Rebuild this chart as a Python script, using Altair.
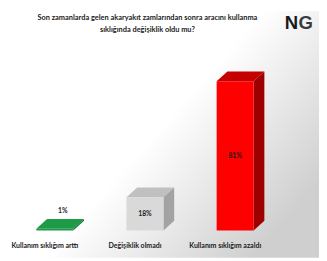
import altair as alt
import pandas as pd

categories = ["Kullanım sıklığım arttı", "Değişiklik olmadı", "Kullanım sıklığım azaldı"]
values = [1, 18, 81]
value_labels = ["1%", "18%", "81%"]
front_colors = ["#1f9a48", "#d9d9d9", "#ff0000"]
top_colors = ["#1f9a48", "#c0c0c0", "#c40000"]
side_colors = ["#13743a", "#a3a3a3", "#9e0000"]
title_lines = ["Son zamanlarda gelen akaryakıt zamlarından sonra aracını kullanma",
               "sıklığında değişiklik oldu mu?"]

W, H = 319, 253
X_DOM = [-0.519, 2.930]
Y_DOM = [-14.8, 119.0]
half = 0.205   # half bar width (index units)
dx = 0.119     # 3D depth x
dy = 5.3       # 3D depth y

front, faces, vlab, clab = [], [], [], []
for i, (c, v) in enumerate(zip(categories, values)):
    x0, x1 = i - half, i + half
    front.append({"x": x0, "x2": x1, "y": 0, "y2": v, "color": front_colors[i]})
    k = f"top{i}"
    for px, py, py2 in [(x0, v, v), (x0 + dx, v + dy, v), (x1, v + dy, v), (x1 + dx, v + dy, v + dy)]:
        faces.append({"key": k, "x": px, "y": py, "y2": py2, "color": top_colors[i]})
    k = f"side{i}"
    for px, py, py2 in [(x1, v, 0), (x1 + dx, v + dy, dy)]:
        faces.append({"key": k, "x": px, "y": py, "y2": py2, "color": side_colors[i]})
    if v > 10:
        vlab.append({"x": i, "y": v / 2, "t": value_labels[i]})
    else:
        vlab.append({"x": i + dx * 0.75, "y": v + dy + 4.3, "t": value_labels[i]})
    clab.append({"x": i - 0.11, "y": -8.5, "t": c})

xs = alt.Scale(domain=X_DOM, nice=False, zero=False)
ys = alt.Scale(domain=Y_DOM, nice=False, zero=False)
X = lambda f="x": alt.X(f"{f}:Q", scale=xs, axis=None)
Y = lambda f="y": alt.Y(f"{f}:Q", scale=ys, axis=None)

bg_df = pd.DataFrame({"x": [X_DOM[0]], "x2": [X_DOM[1]], "y": [Y_DOM[0]], "y2": [Y_DOM[1]]})
bg_layer = alt.Chart(bg_df).mark_rect(
    color=alt.LinearGradient(
        gradient="linear", x1=0, y1=0, x2=1, y2=0.7,
        stops=[alt.GradientStop(offset=0, color="#ffffff"),
               alt.GradientStop(offset=0.55, color="#ffffff"),
               alt.GradientStop(offset=1, color="#cfcfcf")],
    )
).encode(x=X(), x2="x2:Q", y=Y(), y2="y2:Q")

face_layer = alt.Chart(pd.DataFrame(faces)).mark_area(interpolate="linear").encode(
    x=X(), y=Y(), y2="y2:Q", detail="key:N", color=alt.Color("color:N", scale=None)
)
front_layer = alt.Chart(pd.DataFrame(front)).mark_rect().encode(
    x=X(), x2="x2:Q", y=Y(), y2="y2:Q", color=alt.Color("color:N", scale=None)
)
vlab_layer = alt.Chart(pd.DataFrame(vlab)).mark_text(
    font="Lato", fontWeight="bold", fontSize=7, color="#1a1a1a"
).encode(x=X(), y=Y(), text="t:N")
clab_layer = alt.Chart(pd.DataFrame(clab)).mark_text(
    font="Lato", fontWeight="bold", fontSize=7.2, color="#1a1a1a"
).encode(x=X(), y=Y(), text="t:N")
title_df = pd.DataFrame({"x": [1.027, 1.027], "y": [115.3, 108.9], "t": title_lines})
title_layer = alt.Chart(title_df).mark_text(
    font="Lato", fontWeight="bold", fontSize=7.6, color="#1a1a1a"
).encode(x=X(), y=Y(), text="t:N")
logo_df = pd.DataFrame({"x": [2.551, 2.703], "y": [109.5, 109.5], "t": ["N", "G"], "c": ["#1a1a1a", "#3a3a3a"]})
logo_layer = alt.Chart(logo_df).mark_text(
    font="Liberation Sans", fontWeight="bold", fontSize=19, align="left", baseline="alphabetic"
).encode(x=X(), y=Y(), text="t:N", color=alt.Color("c:N", scale=None))

chart = alt.layer(bg_layer, face_layer, front_layer, vlab_layer, clab_layer, title_layer, logo_layer).properties(
    width=W, height=H, autosize=alt.AutoSizeParams(type="none"), padding=0
).configure_view(strokeWidth=0)

chart.save("out.html", embed_options={"renderer": "svg", "actions": False})
